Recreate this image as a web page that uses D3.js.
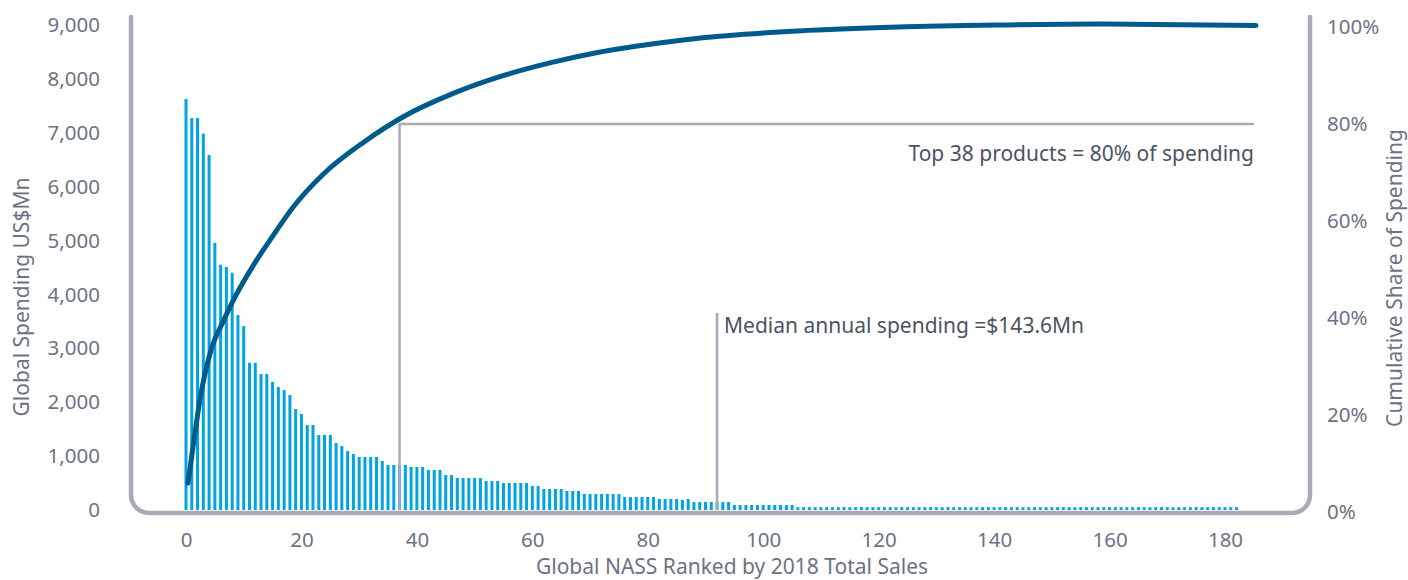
<!DOCTYPE html>
<html>
<head>
<meta charset="utf-8">
<script src="https://cdn.jsdelivr.net/npm/d3@7"></script>
<style>
  body { margin: 0; background: #fff; }
  text { font-family: "Noto Sans", sans-serif; }
</style>
</head>
<body>
<div id="my_dataviz"></div>
<script>
// spending per product (US$Mn), ranked by 2018 total sales
var spending = [
  7627, 7274, 7274, 6983, 6588, 4955, 4552, 4509, 4403, 3618,
  3414, 2733, 2733, 2524, 2524, 2375, 2282, 2227, 2134, 1874,
  1781, 1577, 1577, 1392, 1392, 1392, 1243, 1188, 1095, 1039,
  983, 983, 983, 983, 909, 835, 835, 835, 835, 798,
  798, 798, 742, 742, 742, 650, 650, 594, 594, 594,
  594, 594, 538, 538, 538, 501, 501, 501, 501, 501,
  445, 445, 390, 390, 390, 390, 353, 353, 353, 297,
  297, 297, 297, 297, 297, 297, 241, 241, 241, 241,
  241, 241, 204, 204, 204, 204, 186, 204, 148, 148,
  148, 148, 148, 148, 148, 93, 93, 93, 93, 93,
  93, 93, 93, 93, 93, 93, 52, 52, 52, 52,
  52, 52, 52, 52, 52, 52, 52, 52, 52, 52,
  52, 52, 52, 52, 52, 52, 52, 52, 52, 52,
  52, 52, 52, 52, 52, 52, 52, 52, 52, 52,
  52, 52, 52, 52, 52, 52, 52, 52, 52, 52,
  52, 52, 52, 52, 52, 52, 52, 52, 52, 52,
  52, 52, 52, 52, 52, 52, 52, 52, 52, 52,
  52, 52, 52, 52, 52, 52, 52, 52, 52, 52,
  52, 52, 52
];

// cumulative share of spending (smoothed line), read at these ranks
var shareRank  = [0, 1, 2, 4, 6, 8, 11, 14, 18, 23, 30, 37, 45, 53, 62, 70, 79, 87, 104, 121, 138, 155, 182];
var shareValue = [0.060, 0.146, 0.229, 0.337, 0.393, 0.443, 0.506, 0.561, 0.630, 0.696, 0.763, 0.817,
                  0.862, 0.897, 0.927, 0.948, 0.965, 0.977, 0.992, 1.000, 1.004, 1.006, 1.003];

var xTicks = [0, 20, 40, 60, 80, 100, 120, 140, 160, 180];
var yTicks = [0, 1000, 2000, 3000, 4000, 5000, 6000, 7000, 8000, 9000];
var shareTicks = [0, 0.2, 0.4, 0.6, 0.8, 1];

// annotations
var topCount = 38;          // top 38 products
var topShare = 0.8;         // = 80% of spending
var medianRank = 92;
var medianLabel = "Median annual spending =$143.6Mn";
var topLabel = "Top 38 products = 80% of spending";

var W = 1408, H = 580;
var axisGrey = "#a8aab5", labelGrey = "#6b7383", darkText = "#4a5462";

var svg = d3.select("#my_dataviz")
  .append("svg")
    .attr("width", W)
    .attr("height", H);

// scales
var x = d3.scaleLinear().domain([0, 180]).range([186, 1225]);
var xLine = d3.scaleLinear().domain([0, spending.length - 1]).range([188, 1256]);
var y = d3.scaleLinear().domain([0, 9000]).range([510, 25]);
var y2 = d3.scaleLinear().domain([0, 1]).range([512, 27]);

// bars
svg.append("g")
  .selectAll("rect")
  .data(spending)
  .enter()
  .append("rect")
    .attr("x", function(d, i) { return x(i) - 1.5; })
    .attr("y", function(d) { return y(d); })
    .attr("width", 3)
    .attr("height", function(d) { return y(0) - y(d); })
    .style("fill", "#00a4e0");

// annotation lines
var xTop = x(topCount - 1);
svg.append("path")
  .attr("d", "M" + xTop + "," + y(0) + "V" + y2(topShare) + "H1254")
  .attr("fill", "none")
  .attr("stroke", axisGrey)
  .attr("stroke-width", 2.5);

svg.append("line")
  .attr("x1", x(medianRank)).attr("x2", x(medianRank))
  .attr("y1", 313).attr("y2", y(0))
  .attr("stroke", axisGrey)
  .attr("stroke-width", 2.5);

svg.append("text")
  .attr("x", 1254)
  .attr("y", 161)
  .attr("text-anchor", "end")
  .style("font-size", "21px")
  .style("fill", darkText)
  .text(topLabel);

svg.append("text")
  .attr("x", x(medianRank) + 7)
  .attr("y", 333)
  .style("font-size", "21px")
  .style("fill", darkText)
  .text(medianLabel);

// cumulative share line
svg.append("path")
  .datum(d3.zip(shareRank, shareValue))
  .attr("fill", "none")
  .attr("stroke", "#005a8c")
  .attr("stroke-width", 5)
  .attr("stroke-linecap", "round")
  .attr("d", d3.line()
    .x(function(d) { return xLine(d[0]); })
    .y(function(d) { return y2(d[1]); })
    .curve(d3.curveMonotoneX));

// rounded frame
var p = d3.path();
p.moveTo(131, 17);
p.lineTo(131, 495);
p.arcTo(131, 513, 149, 513, 18);
p.lineTo(1292, 513);
p.arcTo(1310, 513, 1310, 495, 18);
p.lineTo(1310, 17);
svg.append("path")
  .attr("d", p.toString())
  .attr("fill", "none")
  .attr("stroke", axisGrey)
  .attr("stroke-width", 4.5)
  .attr("stroke-linecap", "round");

// Y axis left
var gl = svg.append("g")
  .attr("transform", "translate(100,0)")
  .call(d3.axisLeft(y).tickValues(yTicks).tickFormat(d3.format(",")).tickSize(0).tickPadding(0));
// Y axis right
var gr = svg.append("g")
  .attr("transform", "translate(1327,0)")
  .call(d3.axisRight(y2).tickValues(shareTicks).tickFormat(d3.format(".0%")).tickSize(0).tickPadding(0));
// X axis
var gx = svg.append("g")
  .attr("transform", "translate(0,532)")
  .call(d3.axisBottom(x).tickValues(xTicks).tickSize(0).tickPadding(0));

[gl, gr, gx].forEach(function(g) {
  g.select(".domain").remove();
  g.selectAll("text")
    .style("font-family", "'Noto Sans', sans-serif")
    .style("font-size", "20.5px")
    .style("fill", labelGrey);
});

// axis titles
svg.append("text")
  .attr("text-anchor", "middle")
  .attr("x", 732)
  .attr("y", 574)
  .style("font-size", "21px")
  .style("fill", labelGrey)
  .text("Global NASS Ranked by 2018 Total Sales");

svg.append("text")
  .attr("text-anchor", "middle")
  .attr("transform", "translate(29,297) rotate(-90)")
  .style("font-size", "21px")
  .style("fill", labelGrey)
  .text("Global Spending US$Mn");

svg.append("text")
  .attr("text-anchor", "middle")
  .attr("transform", "translate(1402,278) rotate(-90)")
  .style("font-size", "21px")
  .style("fill", labelGrey)
  .text("Cumulative Share of Spending");
</script>
</body>
</html>
